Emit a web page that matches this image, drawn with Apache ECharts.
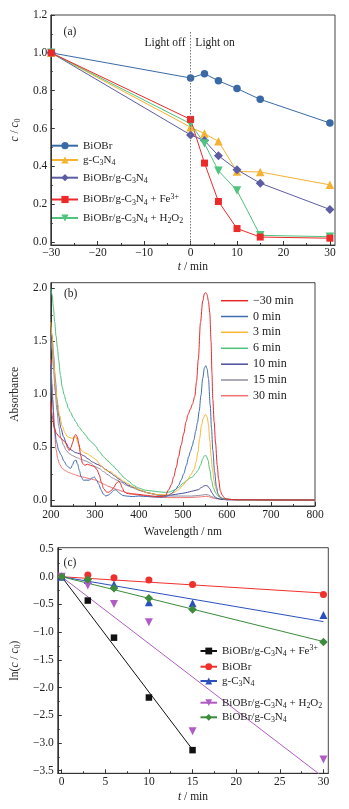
<!DOCTYPE html>
<html><head><meta charset="utf-8">
<script src="https://cdn.jsdelivr.net/npm/echarts@6/dist/echarts.min.js"></script>
<style>html,body{margin:0;padding:0;background:#fff}#c{width:349px;height:809px}</style>
</head><body><div id="c"></div>
<script>
// ---------- Panel (a) data ----------
const timeA = [-30, 0, 3, 6, 10, 15, 30];
const a_BiOBr = [1.0, 0.867, 0.89, 0.852, 0.811, 0.754, 0.629];
const a_gCN   = [1.0, 0.607, 0.573, 0.532, 0.373, 0.37, 0.302];
const a_comp  = [1.0, 0.566, 0.536, 0.456, 0.382, 0.311, 0.172];
const a_Fe    = [1.0, 0.648, 0.417, 0.214, 0.071, 0.026, 0.02];
const a_H2O2  = [1.0, 0.625, 0.52, 0.377, 0.272, 0.035, 0.028];
const a_xMajor = [-30, -20, -10, 0, 10, 20, 30];
const a_xMinor = [-25, -15, -5, 5, 15, 25];
const a_yMajor = [0, 0.2, 0.4, 0.6, 0.8, 1.0, 1.2];
const a_yMinor = [0.1, 0.3, 0.5, 0.7, 0.9, 1.1];

// ---------- Panel (b) data: [wavelength nm, absorbance] ----------
const b_m30 = [[200,0.93],[204,0.78],[208,0.68],[213,0.63],[219,0.60],[227,0.57],[234,0.54],[239,0.49],[242,0.47],[246,0.5],[250,0.55],[254,0.61],[257,0.62],[260,0.6],[264,0.53],[268,0.42],[272,0.35],[277,0.33],[283,0.34],[290,0.33],[298,0.32],[305,0.29],[310,0.24],[315,0.17],[320,0.11],[326,0.08],[331,0.075],[337,0.09],[343,0.12],[349,0.16],[354,0.18],[358,0.16],[362,0.12],[367,0.08],[373,0.065],[380,0.06],[390,0.06],[400,0.055],[420,0.045],[440,0.035],[452,0.035],[460,0.045],[468,0.1],[474,0.15],[479,0.22],[485,0.31],[490,0.41],[496,0.52],[502,0.63],[507,0.74],[512,0.81],[517,0.86],[522,0.91],[527,0.98],[531,1.12],[535,1.33],[540,1.68],[545,1.88],[549,1.95],[552,1.96],[555,1.94],[558,1.88],[561,1.77],[564,1.5],[566,1.2],[568,0.95],[571,0.74],[574,0.55],[578,0.33],[581,0.2],[585,0.09],[589,0.05],[595,0.02],[600,0.01],[620,0.005],[700,0.003],[800,0.002]];
const b_0 = [[200,1.28],[204,0.95],[208,0.7],[213,0.55],[218,0.47],[223,0.43],[230,0.37],[236,0.33],[241,0.31],[245,0.30],[249,0.33],[253,0.37],[257,0.38],[261,0.34],[265,0.28],[269,0.22],[274,0.19],[280,0.19],[287,0.19],[294,0.21],[299,0.22],[304,0.19],[309,0.15],[314,0.1],[319,0.06],[325,0.04],[331,0.05],[337,0.07],[343,0.095],[348,0.1],[353,0.08],[358,0.06],[364,0.045],[372,0.04],[385,0.035],[400,0.04],[420,0.035],[440,0.03],[455,0.03],[465,0.04],[475,0.066],[483,0.1],[490,0.14],[496,0.19],[502,0.25],[508,0.33],[513,0.41],[517,0.46],[521,0.51],[525,0.57],[529,0.65],[533,0.73],[537,0.84],[541,0.99],[545,1.15],[549,1.25],[552,1.27],[555,1.24],[558,1.15],[562,0.9],[565,0.68],[568,0.47],[572,0.27],[576,0.13],[580,0.06],[584,0.03],[590,0.015],[600,0.01],[620,0.005],[700,0.003],[800,0.002]];
const b_3 = [[200,1.68],[203,1.55],[207,1.3],[211,1.08],[215,0.92],[220,0.8],[226,0.7],[232,0.64],[238,0.6],[244,0.59],[249,0.585],[253,0.59],[257,0.6],[261,0.55],[265,0.5],[270,0.47],[276,0.45],[283,0.44],[290,0.42],[297,0.4],[304,0.38],[311,0.34],[318,0.31],[326,0.28],[336,0.27],[345,0.24],[355,0.21],[365,0.18],[374,0.16],[385,0.13],[400,0.1],[420,0.07],[440,0.055],[460,0.05],[470,0.055],[480,0.075],[490,0.1],[500,0.14],[510,0.19],[518,0.24],[525,0.29],[530,0.36],[534,0.45],[538,0.58],[542,0.7],[546,0.77],[551,0.81],[555,0.79],[558,0.72],[561,0.57],[564,0.42],[567,0.3],[571,0.18],[575,0.11],[580,0.055],[586,0.025],[592,0.015],[600,0.01],[620,0.005],[700,0.003],[800,0.002]];
const b_6 = [[200,2.0],[203,1.94],[206,1.82],[209,1.68],[212,1.55],[215,1.44],[218,1.32],[222,1.18],[226,1.07],[230,1.0],[235,0.93],[240,0.87],[245,0.83],[251,0.78],[257,0.74],[264,0.69],[272,0.65],[280,0.61],[287,0.57],[295,0.54],[302,0.51],[310,0.46],[320,0.41],[330,0.37],[340,0.33],[350,0.29],[358,0.25],[367,0.21],[377,0.18],[388,0.14],[400,0.115],[415,0.095],[430,0.088],[445,0.08],[460,0.075],[470,0.078],[480,0.095],[490,0.12],[500,0.16],[510,0.19],[516,0.21],[522,0.22],[528,0.25],[534,0.28],[540,0.33],[545,0.39],[549,0.42],[553,0.42],[557,0.38],[561,0.29],[565,0.19],[569,0.12],[574,0.07],[580,0.04],[588,0.02],[600,0.01],[620,0.005],[700,0.003],[800,0.002]];
const b_10 = [[200,1.64],[203,1.55],[206,1.38],[210,1.15],[214,0.95],[218,0.8],[223,0.68],[229,0.6],[235,0.54],[240,0.5],[248,0.47],[256,0.45],[265,0.44],[275,0.42],[285,0.39],[295,0.36],[305,0.34],[315,0.32],[325,0.29],[335,0.26],[345,0.23],[355,0.2],[365,0.17],[377,0.14],[390,0.12],[405,0.09],[425,0.066],[445,0.05],[460,0.045],[475,0.05],[490,0.06],[505,0.07],[515,0.08],[525,0.09],[535,0.1],[542,0.12],[548,0.135],[552,0.14],[556,0.135],[561,0.11],[566,0.07],[571,0.04],[577,0.02],[585,0.01],[600,0.005],[800,0.002]];
const b_15 = [[200,1.55],[203,1.42],[206,1.25],[210,1.03],[214,0.85],[218,0.7],[223,0.59],[229,0.52],[235,0.47],[242,0.44],[250,0.42],[260,0.4],[270,0.385],[280,0.37],[290,0.35],[300,0.32],[310,0.3],[320,0.27],[330,0.24],[340,0.21],[350,0.19],[360,0.17],[372,0.14],[385,0.12],[400,0.095],[420,0.07],[440,0.05],[460,0.04],[480,0.04],[500,0.04],[520,0.04],[535,0.045],[545,0.05],[552,0.055],[558,0.05],[565,0.035],[575,0.02],[590,0.01],[600,0.006],[800,0.002]];
const b_30 = [[200,1.33],[203,1.1],[206,0.85],[209,0.62],[212,0.48],[216,0.39],[220,0.34],[226,0.3],[233,0.28],[242,0.26],[252,0.245],[262,0.23],[272,0.22],[282,0.21],[292,0.2],[302,0.19],[312,0.17],[322,0.15],[332,0.13],[342,0.115],[352,0.1],[362,0.085],[375,0.07],[390,0.055],[405,0.045],[425,0.035],[445,0.03],[465,0.025],[485,0.025],[505,0.025],[525,0.028],[540,0.032],[548,0.036],[553,0.038],[558,0.035],[565,0.025],[575,0.015],[590,0.008],[600,0.005],[800,0.002]];
const b_xMajor = [200, 300, 400, 500, 600, 700, 800];
const b_xMinor = [250, 350, 450, 550, 650, 750];
const b_yMajor = [0, 0.5, 1.0, 1.5, 2.0];
const b_yMinor = [0.25, 0.75, 1.25, 1.75];

// ---------- Panel (c) data ----------
const timeC   = [0, 3, 6, 10, 15, 30];
const timeCFe = [0, 3, 6, 10, 15];
const c_Fe    = [0, -0.43, -1.10, -2.18, -3.13];
const c_BiOBr = [0, 0.03, -0.02, -0.06, -0.14, -0.32];
const c_gCN   = [0, -0.06, -0.14, -0.46, -0.48, -0.69];
const c_H2O2  = [0, -0.16, -0.49, -0.82, -2.79, -3.30];
const c_comp  = [0, -0.05, -0.21, -0.39, -0.59, -1.18];
const fitTimeFe = [0, 15];
const fitTime   = [0, 30];
const fit_Fe    = [0, -3.12];
const fit_BiOBr = [0, -0.295];
const fit_gCN   = [0, -0.81];
const fit_H2O2  = [0, -3.62];
const fit_comp  = [0, -1.17];
const c_xMajor = [0, 5, 10, 15, 20, 25, 30];
const c_xMinor = [2.5, 7.5, 12.5, 17.5, 22.5, 27.5];
const c_yMajor = [0.5, 0, -0.5, -1.0, -1.5, -2.0, -2.5, -3.0, -3.5];
const c_yMinor = [0.25, -0.25, -0.75, -1.25, -1.75, -2.25, -2.75, -3.25];

// ---------- styling ----------
const F = '"Liberation Serif","Times New Roman",serif';
const TXT = '#222';
const AX = '#333';
const minus = s => String(s).replace('-', '\u2212');
const fmt0 = v => minus(Math.round(v));
const fmt1 = v => minus((Math.abs(v) < 1e-9 ? 0 : v).toFixed(1));
const zip = (xs, ys) => xs.map((x, i) => [x, ys[i]]);

const nameRich = {
  i: { fontStyle: 'italic', fontFamily: F, fontSize: 11.5, color: TXT, lineHeight: 14 },
  sub: { fontSize: 8, fontFamily: F, color: TXT, lineHeight: 9, verticalAlign: 'bottom' }
};

function axes(grid, dim, min, max, majors, minors, fmt, name, nameGap, margin) {
  const main = {
    gridIndex: grid, type: 'value', min: min, max: max,
    position: dim === 'x' ? 'bottom' : 'left',
    axisLine: { show: true, onZero: false, lineStyle: { color: AX, width: 1 } },
    axisTick: { show: true, inside: true, length: 4, customValues: majors, lineStyle: { color: AX, width: 1 } },
    axisLabel: { customValues: majors, formatter: fmt, margin: margin, fontFamily: F, fontSize: 11.5, color: TXT },
    splitLine: { show: false },
    name: name, nameLocation: 'middle', nameGap: nameGap,
    nameTextStyle: { fontFamily: F, fontSize: 11.5, color: TXT, lineHeight: 14, rich: nameRich }
  };
  const minor = {
    gridIndex: grid, type: 'value', min: min, max: max,
    position: dim === 'x' ? 'bottom' : 'left',
    axisLine: { show: false, onZero: false },
    axisTick: { show: true, inside: true, length: 2, customValues: minors, lineStyle: { color: AX, width: 1 } },
    axisLabel: { show: false },
    splitLine: { show: false }
  };
  return [main, minor];
}

const labels = {
  'a1': 'BiOBr',
  'a2': 'g-C{s|3}N{s|4}',
  'a3': 'BiOBr/g-C{s|3}N{s|4}',
  'a4': 'BiOBr/g-C{s|3}N{s|4} + Fe{p|3+}',
  'a5': 'BiOBr/g-C{s|3}N{s|4} + H{s|2}O{s|2}',
  'b1': '\u221230 min', 'b2': '0 min', 'b3': '3 min', 'b4': '6 min', 'b5': '10 min', 'b6': '15 min', 'b7': '30 min',
  'c1': 'BiOBr/g-C{s|3}N{s|4} + Fe{p|3+}',
  'c2': 'BiOBr',
  'c3': 'g-C{s|3}N{s|4}',
  'c4': 'BiOBr/g-C{s|3}N{s|4} + H{s|2}O{s|2}',
  'c5': 'BiOBr/g-C{s|3}N{s|4}'
};

function leg(name, left, cy, iw, ih, fs, icon) {
  const l = {
    data: [name], orient: 'vertical', left: left, top: cy - 7, padding: 0,
    itemWidth: iw, itemHeight: ih, itemGap: 0, selectedMode: false,
    formatter: n => labels[n],
    textStyle: {
      fontFamily: F, fontSize: fs, color: TXT, lineHeight: 14,
      rich: {
        s: { fontFamily: F, fontSize: fs * 0.72, color: TXT, lineHeight: 9, verticalAlign: 'bottom' },
        p: { fontFamily: F, fontSize: fs * 0.72, color: TXT, lineHeight: 9, verticalAlign: 'top' }
      }
    }
  };
  if (icon) l.icon = icon;
  return l;
}

// colours
const colA = { BiOBr: '#3A6AA6', gCN: '#F6B233', comp: '#5C5CA2', Fe: '#EC2A2A', H2O2: '#4FC47D' };
const colB = ['#E62A2A', '#3E6DB0', '#F9B534', '#4DC17A', '#4B4B9C', '#8E8EA0', '#F27070'];
const colC = { Fe: '#111111', BiOBr: '#F0302C', gCN: '#2A50BE', H2O2: '#B05CC4', comp: '#3C8C3C' };

const xa = axes(0, 'x', -30.1, 31.1, a_xMajor, a_xMinor, fmt0, '{i|t} / min', 13.5, 2);
const ya = axes(0, 'y', -0.016, 1.2, a_yMajor, a_yMinor, fmt1, '{i|c} / {i|c}{sub|0}', 25, 3.5);
const xb = axes(1, 'x', 200, 800, b_xMajor, b_xMinor, fmt0, 'Wavelength / nm', 18.5, 3);
const yb = axes(1, 'y', -0.054, 2.053, b_yMajor, b_yMinor, fmt1, 'Absorbance', 21, 3.5);
const xc = axes(2, 'x', -0.444, 30.556, c_xMajor, c_xMinor, fmt0, '{i|t} / min', 17, 3);
const yc = axes(2, 'y', -3.548, 0.524, c_yMajor, c_yMinor, fmt1, 'ln({i|c} / {i|c}{sub|0})', 28, 4);

const gridStyle = { show: true, borderColor: '#444', borderWidth: 1, backgroundColor: 'transparent', containLabel: false };

const series = [];
// Panel (a)
function aSeries(name, ys, color, symbol, size, rotate) {
  return {
    type: 'line', name: name, xAxisIndex: 0, yAxisIndex: 0, data: zip(timeA, ys),
    symbol: symbol, symbolSize: size, symbolRotate: rotate || 0, showSymbol: true,
    lineStyle: { width: 1, color: color }, itemStyle: { color: color }, z: 3, animation: false
  };
}
const sA1 = aSeries('a1', a_BiOBr, colA.BiOBr, 'circle', 7.5);
sA1.markLine = {
  silent: true, symbol: 'none', label: { show: false },
  lineStyle: { type: [1.5, 1.5], color: '#777', width: 1 },
  data: [[{ coord: [0, 1.11] }, { coord: [0, -0.016] }]], animation: false
};
series.push(sA1);
series.push(aSeries('a2', a_gCN, colA.gCN, 'triangle', 8.5));
series.push(aSeries('a3', a_comp, colA.comp, 'diamond', 9));
series.push(aSeries('a5', a_H2O2, colA.H2O2, 'triangle', 8.5, 180));
series.push(aSeries('a4', a_Fe, colA.Fe, 'rect', 7));

// Panel (b)
const bData = [b_m30, b_0, b_3, b_6, b_10, b_15, b_30];
const bOrder = [6, 5, 4, 3, 2, 1, 0];
bOrder.forEach(i => {
  series.push({
    type: 'line', name: 'b' + (i + 1), xAxisIndex: 2, yAxisIndex: 2, data: bData[i],
    symbol: 'none', smooth: 0.3, smoothMonotone: 'x',
    lineStyle: { width: 1, color: colB[i] }, itemStyle: { color: colB[i] }, animation: false
  });
});

// Panel (c): fitted lines then measured points
function cFit(name, xs, ys, color, symbol, rotate) {
  return {
    type: 'line', name: name, xAxisIndex: 4, yAxisIndex: 4, data: zip(xs, ys),
    symbol: symbol, symbolRotate: rotate || 0, showSymbol: false,
    lineStyle: { width: 1, color: color }, itemStyle: { color: color }, z: 2, animation: false
  };
}
function cPts(name, xs, ys, color, symbol, size, rotate) {
  return {
    type: 'scatter', name: name, xAxisIndex: 4, yAxisIndex: 4, data: zip(xs, ys),
    symbol: symbol, symbolSize: size, symbolRotate: rotate || 0,
    itemStyle: { color: color, opacity: 1 }, z: 4, animation: false
  };
}
series.push(cFit('c1', fitTimeFe, fit_Fe, colC.Fe, 'rect'));
series.push(cFit('c2', fitTime, fit_BiOBr, colC.BiOBr, 'circle'));
series.push(cFit('c3', fitTime, fit_gCN, colC.gCN, 'triangle'));
series.push(cFit('c4', fitTime, fit_H2O2, colC.H2O2, 'triangle', 180));
series.push(cFit('c5', fitTime, fit_comp, colC.comp, 'diamond'));
series.push(cPts('c1p', timeCFe, c_Fe, colC.Fe, 'rect', 6.5));
series.push(cPts('c2p', timeC, c_BiOBr, colC.BiOBr, 'circle', 7));
series.push(cPts('c3p', timeC, c_gCN, colC.gCN, 'triangle', 8));
series.push(cPts('c4p', timeC, c_H2O2, colC.H2O2, 'triangle', 8, 180));
series.push(cPts('c5p', timeC, c_comp, colC.comp, 'diamond', 8.5));

const legends = [
  leg('a1', 51, 145.7, 26, 9, 11, null),
  leg('a2', 51, 160, 26, 9, 11, null),
  leg('a3', 51, 177.7, 26, 9, 11, null),
  leg('a4', 51, 199.5, 26, 9, 11, null),
  leg('a5', 51, 218, 26, 9, 11, null),
  leg('b1', 221, 300.7, 27, 1.5, 12, 'rect'),
  leg('b2', 221, 316.5, 27, 1.5, 12, 'rect'),
  leg('b3', 221, 332.3, 27, 1.5, 12, 'rect'),
  leg('b4', 221, 348.3, 27, 1.5, 12, 'rect'),
  leg('b5', 221, 364.2, 27, 1.5, 12, 'rect'),
  leg('b6', 221, 380, 27, 1.5, 12, 'rect'),
  leg('b7', 221, 395.7, 27, 1.5, 12, 'rect'),
  leg('c1', 199.5, 651, 16.5, 8.5, 11, null),
  leg('c2', 199.5, 666.7, 16.5, 8.5, 11, null),
  leg('c3', 199.5, 681, 16.5, 8.5, 11, null),
  leg('c4', 199.5, 702.7, 16.5, 8.5, 11, null),
  leg('c5', 199.5, 717.3, 16.5, 8.5, 11, null)
];

function txt(t, x, y) {
  return { type: 'text', x: x, y: y, silent: true, z: 10,
    style: { text: t, fill: TXT, font: '11.5px ' + F, align: 'center', verticalAlign: 'middle' } };
}

const option = {
  animation: false,
  backgroundColor: '#fff',
  grid: [
    Object.assign({ left: 49.5, top: 15, width: 285.5, height: 230 }, gridStyle),
    Object.assign({ left: 49.5, top: 282.7, width: 265.5, height: 223.3 }, gridStyle),
    Object.assign({ left: 49.3, top: 547.7, width: 279, height: 225.6 }, gridStyle)
  ],
  xAxis: [xa[0], xa[1], xb[0], xb[1], xc[0], xc[1]],
  yAxis: [ya[0], ya[1], yb[0], yb[1], yc[0], yc[1]],
  legend: legends,
  series: series,
  graphic: [
    txt('(a)', 70, 32), txt('Light off', 165, 42.5), txt('Light on', 215, 42.5),
    txt('(b)', 70.7, 294), txt('(c)', 70, 562.5)
  ]
};

const chart = echarts.init(document.getElementById('c'), null, { renderer: 'canvas' });
chart.setOption(option);
</script>
</body></html>
